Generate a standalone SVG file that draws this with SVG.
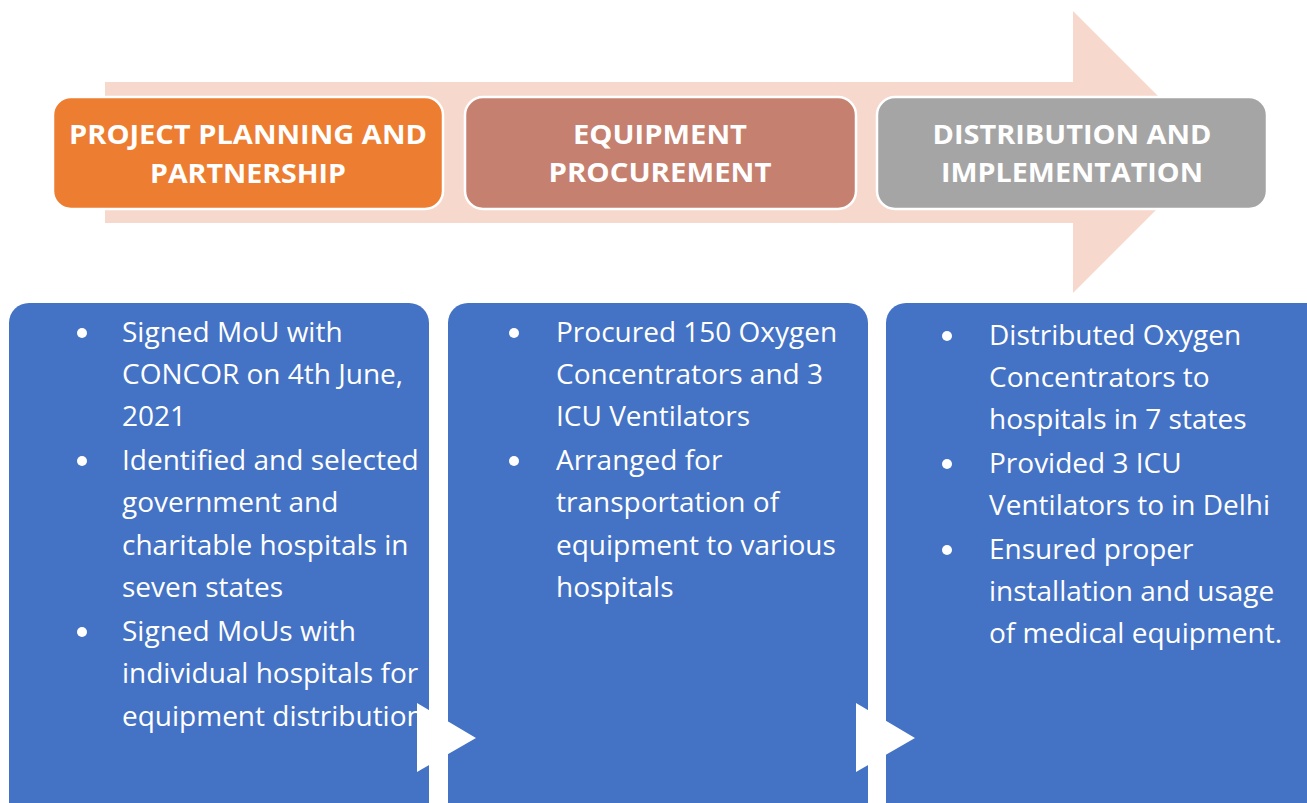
<svg xmlns="http://www.w3.org/2000/svg" width="1307" height="803" viewBox="0 0 1307 803">
<style>
.hdr{font-family:"Open Sans","Liberation Sans",sans-serif;font-weight:bold;font-size:27px;fill:#FFFFFF;text-anchor:middle}
.txt{font-family:"Open Sans","Liberation Sans",sans-serif;font-size:28px;fill:#FFFFFF}
.box{fill:#4472C4}
.dot{fill:#FFFFFF}
.hbox{stroke:#FFFFFF;stroke-width:2.5}
</style>
<rect width="1307" height="803" fill="#FFFFFF"/>
<g id="big-arrow">
<polygon points="105,82 1073,82 1073,11 1214,152 1073,293 1073,223 105,223" fill="#F7D8CD"/>
</g>
<g id="step1">
<rect class="hbox" x="53" y="97" width="390" height="112" rx="18" fill="#ED7D31"/>
<text class="hdr" x="248" y="144" textLength="358" lengthAdjust="spacingAndGlyphs">PROJECT PLANNING AND</text>
<text class="hdr" x="248" y="183" textLength="196" lengthAdjust="spacingAndGlyphs">PARTNERSHIP</text>
</g>
<g id="step2">
<rect class="hbox" x="465" y="97" width="391" height="112" rx="18" fill="#C5806F"/>
<text class="hdr" x="660" y="144" textLength="174" lengthAdjust="spacingAndGlyphs">EQUIPMENT</text>
<text class="hdr" x="660" y="182" textLength="223" lengthAdjust="spacingAndGlyphs">PROCUREMENT</text>
</g>
<g id="step3">
<rect class="hbox" x="877" y="97" width="390" height="112" rx="18" fill="#A5A5A5"/>
<text class="hdr" x="1072" y="144" textLength="279" lengthAdjust="spacingAndGlyphs">DISTRIBUTION AND</text>
<text class="hdr" x="1072" y="182" textLength="262" lengthAdjust="spacingAndGlyphs">IMPLEMENTATION</text>
</g>
<g id="detail1">
<rect class="box" x="9" y="303" width="420" height="520" rx="20"/>
<circle class="dot" cx="82" cy="333" r="5"/>
<circle class="dot" cx="82" cy="461" r="5"/>
<circle class="dot" cx="82" cy="632" r="5"/>
<text class="txt" x="122" y="342">Signed MoU with</text>
<text class="txt" x="122" y="384">CONCOR on 4th June,</text>
<text class="txt" x="122" y="426">2021</text>
<text class="txt" x="122" y="470">Identified and selected</text>
<text class="txt" x="122" y="512">government and</text>
<text class="txt" x="122" y="555">charitable hospitals in</text>
<text class="txt" x="122" y="597">seven states</text>
<text class="txt" x="122" y="641">Signed MoUs with</text>
<text class="txt" x="122" y="683">individual hospitals for</text>
<text class="txt" x="122" y="726">equipment distribution</text>
</g>
<g id="detail2">
<rect class="box" x="448" y="303" width="420" height="520" rx="20"/>
<circle class="dot" cx="514" cy="333" r="5"/>
<circle class="dot" cx="514" cy="461" r="5"/>
<text class="txt" x="556" y="342">Procured 150 Oxygen</text>
<text class="txt" x="556" y="384">Concentrators and 3</text>
<text class="txt" x="556" y="426">ICU Ventilators</text>
<text class="txt" x="556" y="470">Arranged for</text>
<text class="txt" x="556" y="512">transportation of</text>
<text class="txt" x="556" y="555">equipment to various</text>
<text class="txt" x="556" y="597">hospitals</text>
</g>
<g id="detail3">
<rect class="box" x="886" y="303" width="440" height="520" rx="20"/>
<circle class="dot" cx="947" cy="336" r="5"/>
<circle class="dot" cx="947" cy="464" r="5"/>
<circle class="dot" cx="947" cy="550" r="5"/>
<text class="txt" x="989" y="345">Distributed Oxygen</text>
<text class="txt" x="989" y="387">Concentrators to</text>
<text class="txt" x="989" y="429">hospitals in 7 states</text>
<text class="txt" x="989" y="473">Provided 3 ICU</text>
<text class="txt" x="989" y="515">Ventilators to in Delhi</text>
<text class="txt" x="989" y="559">Ensured proper</text>
<text class="txt" x="989" y="601">installation and usage</text>
<text class="txt" x="989" y="643">of medical equipment.</text>
</g>
<g id="connectors">
<polygon points="417,703 476,738 417,772" fill="#FFFFFF"/>
<polygon points="856,703 915,738 856,772" fill="#FFFFFF"/>
</g>
</svg>
